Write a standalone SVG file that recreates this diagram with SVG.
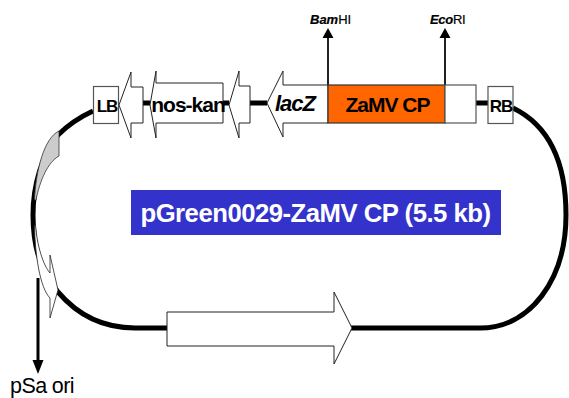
<svg xmlns="http://www.w3.org/2000/svg" width="569" height="398" viewBox="0 0 569 398">
<style>
text{font-family:"Liberation Sans",Arial,sans-serif;fill:#000}
.bb{fill:#fff;stroke:#555;stroke-width:1.2}
.ar{fill:#fff;stroke:#222;stroke-width:1}
.lab{font-size:21px;font-weight:bold;text-anchor:middle;letter-spacing:-1px}
.site{font-size:13px;stroke:#000;stroke-width:.2}
.main{fill:none;stroke:#000;stroke-width:5}
.thin{stroke:#222;stroke-width:2;fill:none}
</style>
<g id="connectors">
<path class="main" d="M93 111C80 117 68 125 58 135C42 155 33 185 33 215C33 250 43 275 58 292C75 312 100 328 135 328H480C530 328 566 280 566 215C566 160 548 125 513 108"/>
<path class="main" d="M143 103H150M223 103H229M250 103H267M476 103H488"/>
<path class="thin" d="M328 85V38"/>
<path class="thin" d="M445 85V38"/>
<path d="M328 28L322.500 38H333.500Z M445 28L439.500 38H450.500Z" fill="#000"/>
<path d="M38 278V361" stroke="#000" stroke-width="3" fill="none"/>
<path d="M32.500 360H43.500L38 374Z" fill="#000"/>
</g>
<g id="LB"><rect class="bb" x="93.500" y="86.500" width="25" height="37"/><text class="lab" x="107" y="112" style="font-size:17px">LB</text></g>
<g id="RB"><rect class="bb" x="488" y="86.500" width="25" height="37"/><text class="lab" x="501" y="112" style="font-size:17px">RB</text></g>
<g id="arrow-1"><path class="ar" d="M119 105L131 72V87H143V123H131V138Z"/></g>
<g id="nos-kan"><path class="ar" d="M150 105L156 71V83H223V123H156V138Z"/><text class="lab" x="188" y="112">nos-kan</text></g>
<g id="arrow-3"><path class="ar" d="M229 105L239 71V86H250V123H239V138Z"/></g>
<g id="lacZ"><path class="ar" d="M267 103L283 71V85H328V123H283V137Z"/><text x="295" y="111" style="font-size:22px;font-style:italic;font-weight:bold;text-anchor:middle;letter-spacing:-1px">lacZ</text></g>
<g id="ZaMV-CP"><rect x="328" y="85" width="117" height="38" fill="#f60" stroke="#333" stroke-width="1.200"/><rect class="bb" x="445" y="85" width="31" height="38"/><text class="lab" x="387.500" y="112">ZaMV CP</text></g>
<g id="BamHI"><text class="site" x="310" y="24"><tspan font-style="italic" font-weight="bold">Bam</tspan>HI</text></g>
<g id="EcoRI"><text class="site" x="430" y="24" style="letter-spacing:-.3px"><tspan font-style="italic" font-weight="bold">Eco</tspan>RI</text></g>
<g id="title"><rect x="131" y="190" width="370" height="45" fill="#3333cc"/><text x="315.500" y="222" style="font-size:25.700px;font-weight:bold;text-anchor:middle;fill:#fff;letter-spacing:-.5px">pGreen0029-ZaMV CP (5.5 kb)</text></g>
<g id="arrow-bottom"><path class="ar" d="M167 312H334V292L352 328L334 364V346H167Z"/></g>
<g id="pSa-ori">
<path d="M59 131C44 138 36 170 34.500 200L36 200C40 180 48 162 59 156Z" fill="#ccc" stroke="#333" stroke-width=".8"/>
<path d="M34.500 225C35 255 40 288 50 298V318L58 290L50 255V273C43 265 37 245 35.500 225Z" fill="#fff" stroke="#222" stroke-width=".8"/>
<text x="42" y="393" style="font-size:21.500px;text-anchor:middle;letter-spacing:-.6px">pSa ori</text>
</g>
</svg>
